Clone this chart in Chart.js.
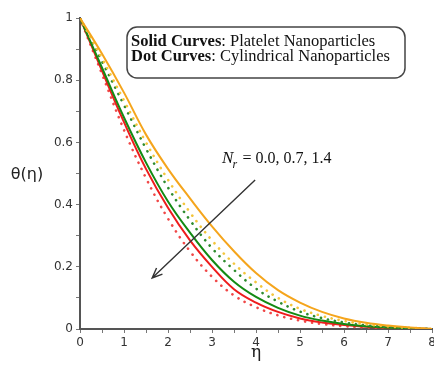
<!DOCTYPE html>
<html>
<head>
<meta charset="utf-8">
<script src="https://cdn.jsdelivr.net/npm/chart.js@4.4.1/dist/chart.umd.min.js"></script>
<style>
  html, body { margin: 0; padding: 0; background: #fff; overflow: hidden; }
  #wrap { width: 440px; height: 367px; }
</style>
</head>
<body>
<div id="wrap"><canvas id="chart" width="440" height="367"></canvas></div>
<script>
// ─── data ─────────────────────────────────────────────────────────────────
const eta = [0, 0.5, 1, 1.5, 2, 2.5, 3, 3.5, 4, 4.5, 5, 5.5, 6, 6.5, 7, 7.5, 8];

// solid = platelet, dotted = cylindrical; Nr = 0.0 / 0.7 / 1.4
const plateletNr00    = [1, 0.885, 0.76, 0.625, 0.515, 0.42, 0.33, 0.25, 0.18, 0.125, 0.085, 0.055, 0.034, 0.02, 0.011, 0.005, 0];
const cylindricalNr00 = [1, 0.87, 0.735, 0.60, 0.48, 0.375, 0.285, 0.21, 0.15, 0.10, 0.065, 0.042, 0.026, 0.015, 0.008, 0.004, 0];
const cylindricalNr07 = [1, 0.86, 0.72, 0.58, 0.455, 0.35, 0.26, 0.19, 0.13, 0.088, 0.056, 0.035, 0.021, 0.012, 0.006, 0.003, 0];
const plateletNr07    = [1, 0.84, 0.68, 0.535, 0.41, 0.31, 0.222, 0.152, 0.103, 0.068, 0.043, 0.027, 0.016, 0.009, 0.005, 0.002, 0];
const plateletNr14    = [1, 0.83, 0.665, 0.515, 0.39, 0.285, 0.2, 0.128, 0.085, 0.055, 0.034, 0.021, 0.013, 0.007, 0.004, 0.002, 0];
const cylindricalNr14 = [1, 0.82, 0.64, 0.485, 0.355, 0.25, 0.168, 0.108, 0.07, 0.044, 0.027, 0.016, 0.009, 0.005, 0.003, 0.001, 0];

const xTicks = [0, 1, 2, 3, 4, 5, 6, 7, 8];
const yTicks = [0, 0.2, 0.4, 0.6, 0.8, 1];

const pts = ys => eta.map((x, i) => ({ x, y: ys[i] }));

const solid = (data, color) => ({
  data: pts(data), borderColor: color, borderWidth: 2,
  pointRadius: 0, tension: 0.4, fill: false,
});
const dotted = (data, color) => ({
  data: pts(data), borderColor: color, borderWidth: 2.6,
  borderDash: [0.1, 7], borderCapStyle: 'round',
  pointRadius: 0, tension: 0.4, fill: false,
});

// ─── 注释：标题、图例框、箭头 ───────────────────────────────────────────
const decorations = {
  id: 'decorations',
  afterDraw(chart) {
    const { ctx, scales: { x, y } } = chart;
    ctx.save();

    // axis titles
    ctx.fillStyle = '#222';
    ctx.textAlign = 'center';
    ctx.textBaseline = 'middle';
    ctx.font = '16px "DejaVu Sans"';
    ctx.fillText('θ(η)', 27, 175);
    ctx.font = '17px "DejaVu Serif"';
    ctx.fillText('η', (x.left + x.right) / 2, 353);

    // legend box
    const bx = 127, by = 27, bw = 278, bh = 51, r = 10;
    ctx.beginPath();
    ctx.roundRect(bx, by, bw, bh, r);
    ctx.fillStyle = '#fff';
    ctx.fill();
    ctx.strokeStyle = '#444';
    ctx.lineWidth = 1.5;
    ctx.stroke();

    ctx.textAlign = 'left';
    ctx.textBaseline = 'alphabetic';
    ctx.fillStyle = '#111';
    const lines = [
      ['Solid Curves', ': Platelet Nanoparticles', 46],
      ['Dot Curves', ': Cylindrical Nanoparticles', 61],
    ];
    lines.forEach(([b, n, yy]) => {
      ctx.font = 'bold 16.5px "Liberation Serif"';
      ctx.fillText(b, 131, yy);
      const w = ctx.measureText(b).width;
      ctx.font = '16.5px "Liberation Serif"';
      ctx.fillText(n, 131 + w, yy);
    });

    // Nr label
    const tx = x.getPixelForValue(3.23), ty = y.getPixelForValue(0.535);
    ctx.font = 'italic 17px "Liberation Serif"';
    ctx.fillText('N', tx, ty);
    let w = ctx.measureText('N').width;
    ctx.font = 'italic 12px "Liberation Serif"';
    ctx.fillText('r', tx + w - 1, ty + 5);
    w += 5;
    ctx.font = '16px "Liberation Serif"';
    ctx.fillText(' = 0.0, 0.7, 1.4', tx + w, ty);

    // arrow
    const x0 = x.getPixelForValue(3.98), y0 = y.getPixelForValue(0.479);
    const x1 = x.getPixelForValue(1.64), y1 = y.getPixelForValue(0.164);
    ctx.strokeStyle = '#333';
    ctx.lineWidth = 1.4;
    ctx.beginPath();
    ctx.moveTo(x0, y0);
    ctx.lineTo(x1, y1);
    const a = Math.atan2(y1 - y0, x1 - x0), hl = 11;
    ctx.moveTo(x1 - hl * Math.cos(a - 0.4), y1 - hl * Math.sin(a - 0.4));
    ctx.lineTo(x1, y1);
    ctx.lineTo(x1 - hl * Math.cos(a + 0.4), y1 - hl * Math.sin(a + 0.4));
    ctx.stroke();

    ctx.restore();
  },
};

const tickFont = { family: '"DejaVu Sans"', size: 12 };

new Chart(document.getElementById('chart'), {
  type: 'line',
  data: {
    datasets: [
      solid(plateletNr00, '#f5a51c'),
      dotted(cylindricalNr00, '#f3c53c'),
      dotted(cylindricalNr07, '#2e8b2e'),
      solid(plateletNr07, '#138a13'),
      solid(plateletNr14, '#ee1c1c'),
      dotted(cylindricalNr14, '#f04848'),
    ],
  },
  options: {
    responsive: false,
    animation: false,
    devicePixelRatio: 1,
    layout: { padding: { left: 0, right: 8, top: 18, bottom: 0 } },
    plugins: { legend: { display: false }, tooltip: { enabled: false } },
    scales: {
      x: {
        type: 'linear', min: 0, max: 8,
        afterBuildTicks: s => { s.ticks = eta.map(v => ({ value: v })); },
        ticks: {
          color: '#333', font: tickFont, padding: 3, maxRotation: 0,
          callback: v => (xTicks.includes(v) ? String(v) : ''),
        },
        grid: { drawOnChartArea: false, tickLength: 4, color: '#777' },
        border: { color: '#555', width: 2 },
        afterFit: s => { s.height = 38; },
      },
      y: {
        type: 'linear', min: 0, max: 1,
        afterBuildTicks: s => {
          s.ticks = Array.from({ length: 11 }, (_, i) => ({ value: i / 10 }));
        },
        ticks: {
          color: '#333', font: tickFont, padding: 3,
          callback: v => {
            const hit = yTicks.find(t => Math.abs(t - v) < 1e-6);
            if (hit === undefined) return '';
            return hit === 0 || hit === 1 ? String(hit) : hit.toFixed(1);
          },
        },
        grid: { drawOnChartArea: false, tickLength: 4, color: '#777' },
        border: { color: '#555', width: 2 },
        afterFit: s => { s.width = 80; },
      },
    },
  },
  plugins: [decorations],
});
</script>
</body>
</html>
